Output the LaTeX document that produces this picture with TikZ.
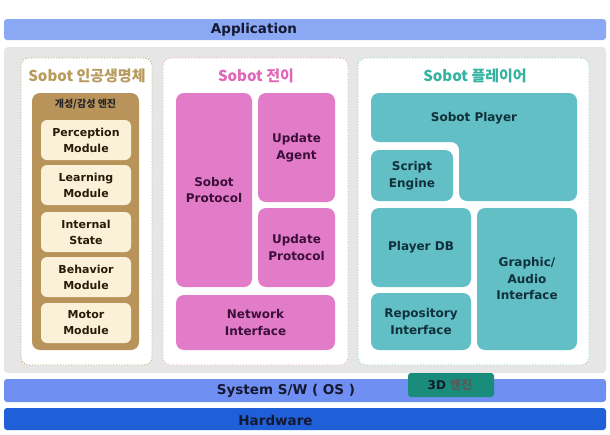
\documentclass[tikz,border=0pt]{standalone}
\usepackage{fontspec}
\setmainfont{DejaVu Sans}
\newfontfamily\kr{Noto Sans CJK KR}
\definecolor{appc}{HTML}{8AA8F4}
\definecolor{sysc}{HTML}{6F90F2}
\definecolor{hwc}{HTML}{1F5FD8}
\definecolor{engc}{HTML}{1A8C7C}
\definecolor{bgc}{HTML}{E6E6E6}
\definecolor{tanc}{HTML}{B89A5C}
\definecolor{brownc}{HTML}{B8935A}
\definecolor{modc}{HTML}{FBF1D8}
\definecolor{modt}{HTML}{2A1A08}
\definecolor{pinkt}{HTML}{E067B8}
\definecolor{pinkc}{HTML}{E27BC8}
\definecolor{pinktx}{HTML}{3B0F3A}
\definecolor{tealt}{HTML}{35B3A0}
\definecolor{tealc}{HTML}{62BFC6}
\definecolor{tealtx}{HTML}{10303A}
\definecolor{bartx}{HTML}{141830}
\tikzset{
  bar/.style={rounded corners=3pt, minimum width=602, inner sep=0},
  barlabel/.style={font=\bfseries\fontsize{13.5}{15}\selectfont, text=bartx, inner sep=0},
  panel/.style={fill=white, rounded corners=8pt, dotted, line width=0.8pt, minimum width=#1, minimum height=307, inner sep=0},
  title/.style={font=\kr\bfseries\fontsize{15}{16}\selectfont, inner sep=0},
  modbox/.style={fill=modc, rounded corners=6pt, minimum width=90, minimum height=40, text=modt, align=center,
     font=\bfseries\fontsize{11}{16}\selectfont, inner sep=0},
  pinkbox/.style={fill=pinkc, rounded corners=8pt, text=pinktx, align=center,
     font=\bfseries\fontsize{12}{16.5}\selectfont, inner sep=0},
  tealbox/.style={fill=tealc, rounded corners=8pt, text=tealtx, align=center,
     font=\bfseries\fontsize{12}{16.5}\selectfont, inner sep=0},
}
\begin{document}
\begin{tikzpicture}[x=1pt,y=-1pt]
\useasboundingbox (0,0) rectangle (610,434);
\fill[white] (0,0) rectangle (610,434);
% layer bars
\node[bar, fill=appc, minimum height=21] (app) at (305,29.5) {};
\node[barlabel] (applab) at (254,30) {Application};
\node[fill=bgc, rounded corners=4pt, minimum width=602, minimum height=326, inner sep=0] (bg) at (305,210) {};
\node[bar, fill=sysc, minimum height=23] (sys) at (305,390.5) {};
\node[barlabel] (syslab) at (286,391) {System S/W ( OS )};
\node[bar, fill=hwc, minimum height=22] (hw) at (305,419) {};
\node[barlabel] (hwlab) at (275.5,420) {Hardware};
\node[fill=engc, rounded corners=3pt, minimum width=86, minimum height=24, inner sep=0] (eng) at (451,385) {};
\node[inner sep=0, font=\bfseries\fontsize{12}{13}\selectfont, text=bartx] (englab) at (450,385) {3D {\kr\color{black!65}엔진}};
% left panel
\node[panel=131, draw=tanc] (lp) at (86.5,211.5) {};
\node[title] (lt) at (87,76) {\color{tanc}Sobot 인공생명체};
\node[fill=brownc, rounded corners=8pt, minimum width=107, minimum height=257, inner sep=0] (brown) at (85.5,221.5) {};
\node[inner sep=0, font=\kr\bfseries\fontsize{10}{11}\selectfont, text=black!85] (hdr) at (85.5,104) {개성/감성 엔진};
\node[modbox] (perc) at (86,140) {Perception\\Module};
\node[modbox] (learn) at (86,185) {Learning\\Module};
\node[modbox] (intst) at (86,232) {Internal\\State};
\node[modbox] (behav) at (86,277) {Behavior\\Module};
\node[modbox] (motor) at (86,323) {Motor\\Module};
% middle panel
\node[panel=185, draw=pinkt!70] (mp) at (255.5,211.5) {};
\node[title] (mt) at (256,76) {\color{pinkt}Sobot 전이};
\node[pinkbox, minimum width=76, minimum height=194] (sprot) at (214,190) {Sobot\\Protocol};
\node[pinkbox, minimum width=77, minimum height=109] (uagent) at (296.5,147.5) {Update\\Agent};
\node[pinkbox, minimum width=77, minimum height=79] (uprot) at (296.5,247.5) {Update\\Protocol};
\node[pinkbox, minimum width=159, minimum height=55] (netif) at (255.5,322.5) {Network\\Interface};
% right panel
\node[panel=231, draw=tealt!70] (rp) at (473.5,211.5) {};
\node[title] (rt) at (475,76) {\color{tealt}Sobot 플레이어};
\fill[tealc, rounded corners=8pt] (371,93) -- (577,93) -- (577,201) -- (459,201) -- (459,142) -- (371,142) -- cycle;
\node[tealbox, fill=none] (splayer) at (474,118) {Sobot Player};
\node[tealbox, minimum width=82, minimum height=51] (script) at (412,175.5) {Script\\Engine};
\node[tealbox, minimum width=100, minimum height=79] (pdb) at (421,247.5) {Player DB};
\node[tealbox, minimum width=100, minimum height=57] (repo) at (421,321.5) {Repository\\Interface};
\node[tealbox, minimum width=100, minimum height=142] (gfx) at (527,279) {Graphic/\\Audio\\Interface};
\end{tikzpicture}
\end{document}
